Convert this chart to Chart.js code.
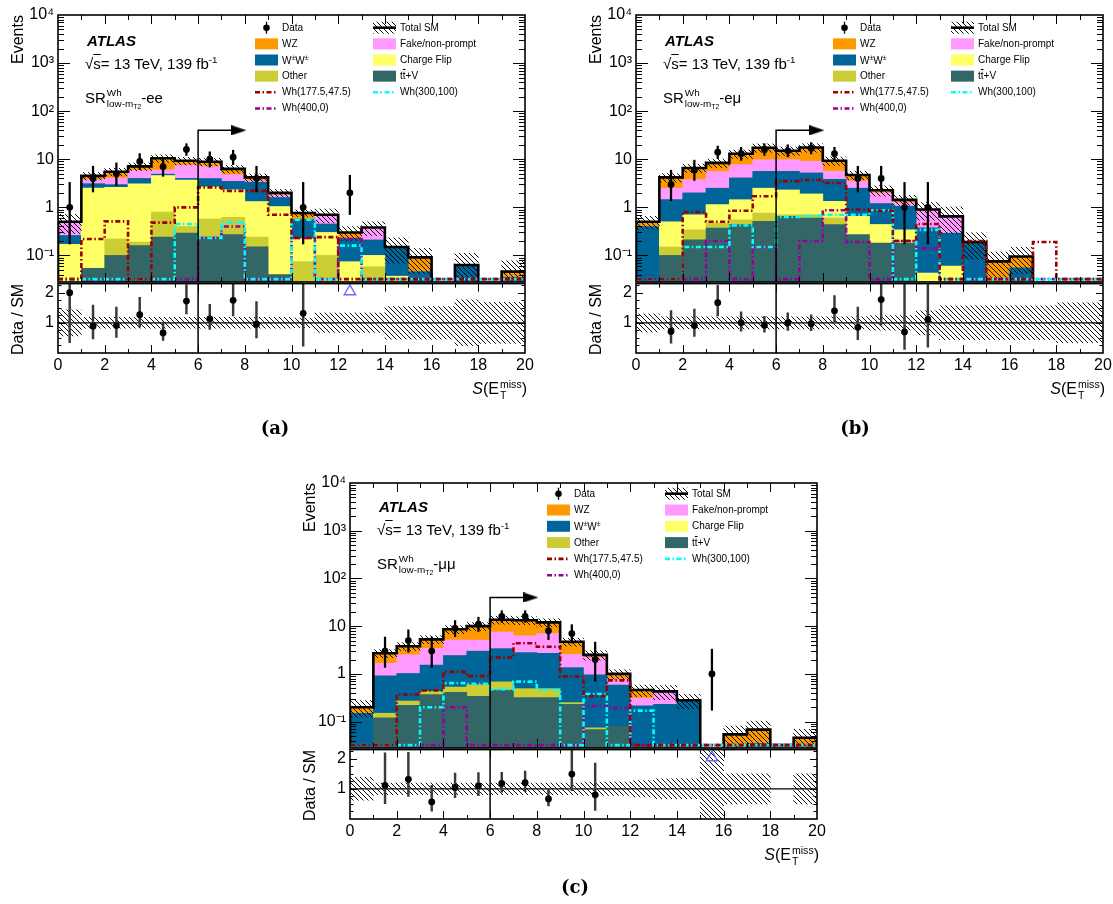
<!DOCTYPE html>
<html><head><meta charset="utf-8">
<script src="https://cdn.jsdelivr.net/npm/chart.js@4.4.1/dist/chart.umd.min.js"></script>
<style>
html,body{margin:0;padding:0;background:#fff}
body{width:1113px;height:904px;position:relative;overflow:hidden;font-family:"Liberation Sans",Arial,Helvetica,sans-serif;color:#000}
canvas{position:absolute}
.t{position:absolute;white-space:nowrap;line-height:1}
.ss{display:inline-flex;flex-direction:column;vertical-align:middle;font-size:0.66em;line-height:1.08;margin-left:1px;text-align:left}
.s2{font-size:0.7em;vertical-align:-0.25em}
.tag{font-family:"DejaVu Serif",serif;font-weight:bold;font-size:18px}
</style></head><body>
<script>
// ---------------- DATA ----------------
const binCenters = [0.5,1.5,2.5,3.5,4.5,5.5,6.5,7.5,8.5,9.5,10.5,11.5,12.5,13.5,14.5,15.5,16.5,17.5,18.5,19.5];
const mainTickValues = [0.1,1,10,100,1000,10000];
const mainTickLabels = ['10\u207B\u00B9','1','10','10\u00B2','10\u00B3','10\u2074'];
const ratioTickValues = [1,2];
const ratioTickLabels = ['1','2'];
const xTickValues = [0,2,4,6,8,10,12,14,16,18,20];
const xTickLabels = ['0','2','4','6','8','10','12','14','16','18','20'];

// Garwood (68%) Poisson intervals for n = 0..20
const poissonLo = [0,0.173,0.708,1.367,2.086,2.840,3.620,4.419,5.232,6.057,6.891,7.734,8.585,9.441,10.30,11.17,12.04,12.92,13.80,14.68,15.57];
const poissonHi = [1.841,3.300,4.638,5.918,7.163,8.382,9.584,10.77,11.95,13.11,14.27,15.42,16.56,17.70,18.83,19.96,21.08,22.20,23.32,24.42,25.54];

// (a) ee
const ee_ttV        = [0,0.054,0.10,0.16,0.24,0.29,0.24,0.27,0.15,0.04,0,0,0,0,0,0,0,0,0,0];
const ee_other      = [0,0,0.12,0.03,0.56,0.11,0.33,0.35,0.09,0,0.074,0.10,0,0.058,0,0,0,0,0,0];
const ee_chargeFlip = [0.17,2.45,2.4,2.9,3.8,3.3,2.1,1.7,1.08,1.0,0.15,0.20,0.074,0.042,0.037,0,0,0,0,0];
const ee_WW         = [0.09,0.6,0.35,0.9,0.3,0.3,1.3,1.15,2.0,0.56,0.33,0.15,0.154,0.11,0.108,0.046,0.01,0.063,0.01,0.035];
const ee_fake       = [0.22,0.65,1.1,1.85,1.1,3.5,3.1,1.3,0.25,0.2,0,0.25,0,0.17,0,0,0,0,0,0];
const ee_WZ         = [0.02,0.75,1.43,1.26,4.5,1.8,1.78,1.53,0.63,0.2,0.206,0,0.072,0,0.005,0.045,0,0,0,0.011];
const ee_data       = [1,4,5,9,7,16,10,11,4,0,1,0,2,0,0,0,0,0,0,0];
const ee_relUnc     = [0.43,0.18,0.18,0.18,0.18,0.18,0.18,0.18,0.18,0.18,0.16,0.32,0.32,0.32,0.54,0.54,0.54,0.76,0.68,0.68];
const ee_Wh177      = [0,0.22,0.51,0,0.48,1.0,2.6,2.2,2.2,0.70,0.23,0.24,0,0,0,0,0,0,0,0];
const ee_Wh300      = [0,0,0,0,0,0.45,0.23,0.48,0,0,0.55,0,0.16,0,0,0,0,0,0,0];
const ee_Wh400      = [0,0,0,0,0,0,0.23,0.40,0,0,0.23,0,0.22,0,0,0,0,0,0,0];

// (b) e mu
const em_ttV        = [0,0.1,0.21,0.37,0.44,0.51,0.65,0.6,0.44,0.27,0.18,0.18,0,0,0,0,0,0,0,0];
const em_other      = [0,0.05,0.13,0.1,0.11,0.25,0.05,0.1,0.16,0,0,0,0,0,0,0,0,0,0,0];
const em_chargeFlip = [0,0.35,0.36,0.67,0.89,1.74,1.6,1.2,0.73,0.38,0.26,0.16,0.043,0.06,0,0,0,0,0,0];
const em_WW         = [0.4,0.95,1.3,1.36,2.66,3.1,3.3,3.3,2.5,1.85,0.76,0.71,0.33,0.23,0.19,0.005,0.055,0.01,0.01,0.01];
const em_fake       = [0,1.05,1.8,3.1,3.6,4.2,4.2,3.9,1.8,1.0,0.8,0.2,0.527,0.36,0,0,0,0,0,0];
const em_WZ         = [0.1,1.7,2.8,2.8,5.3,7.6,5.2,8.4,3.67,1.2,0.26,0.18,0,0,0,0.07,0.04,0,0,0];
const em_data       = [0,3,6,14,13,16,15,17,13,4,4,1,1,0,0,0,0,0,0,0];
const em_relUnc     = [0.30,0.20,0.20,0.20,0.20,0.20,0.20,0.20,0.20,0.20,0.24,0.24,0.40,0.56,0.56,0.56,0.56,0.56,0.66,0.66];
const em_Wh177      = [0,0,0.8,0.5,0.85,1.7,3.5,3.7,3.2,0.9,0.85,0.2,0.45,0,0.2,0,0,0.19,0,0];
const em_Wh300      = [0,0,0.15,0.15,0.42,0.15,0.63,0.67,0.7,0.7,0.87,0,0.34,0,0,0,0,0,0,0];
const em_Wh400      = [0,0,0,0.2,0,0.15,0,0.2,0.87,0.19,0,0.2,0.14,0,0,0,0,0,0,0];

// (c) mu mu
const mm_ttV        = [0,0.12,0.22,0.37,0.41,0.34,0.46,0.32,0.32,0.23,0.068,0.08,0,0,0,0,0,0,0,0];
const mm_other      = [0,0.03,0.05,0.06,0.12,0.25,0.22,0.17,0.17,0.02,0.006,0,0,0,0,0,0,0,0,0];
const mm_chargeFlip = [0,0,0,0,0,0,0,0,0,0,0,0,0,0,0,0,0,0,0,0];
const mm_WW         = [0.15,0.76,0.75,1.1,1.9,2.4,2.7,2.3,2.2,1.1,0.88,0.5,0.215,0.23,0.28,0,0,0.035,0,0];
const mm_fake       = [0,0.76,1.5,1.9,2.7,2.1,4.2,3.5,4.3,1.2,1.25,0.2,0.095,0.2,0,0,0,0,0,0];
const mm_WZ         = [0.05,1.03,1.28,1.87,3.47,4.91,6.02,7.01,5.01,2.15,0.296,0.22,0.15,0,0,0.01,0.054,0.033,0,0.046];
const mm_data       = [0,3,5,3,9,11,16,16,8,7,2,0,0,0,0,1,0,0,0,0];
const mm_relUnc     = [0.38,0.19,0.19,0.19,0.19,0.19,0.19,0.19,0.19,0.19,0.22,0.22,0.27,0.33,0.33,1.5,0.5,0.5,0,0.5];
const mm_Wh177      = [0,0,0.37,0.45,1.1,0.9,2.2,4.4,3.7,0.88,0.34,0.73,0,0,0,0,0,0,0,0];
const mm_Wh300      = [0,0,0,0.2,0.64,0.62,0.48,0.69,0.46,0,0.38,0,0.17,0,0,0,0,0,0,0];
const mm_Wh400      = [0,0,0,0,0.2,0,0,0,0,0,0.21,0.19,0,0,0,0,0,0,0,0];

// signal-region cut annotation
const cutValue = 6;
const cutArrowLevel = 40;
const cutArrowEnd = 8.07;

// ---------------- STYLE / LAYOUT ----------------
const COLORS = {ttV:'#336666', other:'#cccc33', chargeFlip:'#ffff66', WW:'#006699', fake:'#ff99ff', WZ:'#ff9900',
  Wh177:'#990000', Wh300:'#00ffff', Wh400:'#990099', offscale:'#6a6aff'};
const Y_MIN = 0.028, Y_MAX = 10000, R_MIN = 0, R_MAX = 2.3;
const LINE_FLOOR = Y_MIN * 1.15;   // empty bins of line histograms sit on the bottom of the frame
const SIG_DASH = [5,2.5,1.5,2.5];

const panels = [
  {d:{ttV:ee_ttV,other:ee_other,chargeFlip:ee_chargeFlip,WW:ee_WW,fake:ee_fake,WZ:ee_WZ,data:ee_data,relUnc:ee_relUnc,Wh177:ee_Wh177,Wh300:ee_Wh300,Wh400:ee_Wh400},
   L:58,R:525,T:15,B:282,RB:353,dx:0,dy:0,rowH:16.15,flav:'ee',tag:'(a)',tagX:275,tagY:428},
  {d:{ttV:em_ttV,other:em_other,chargeFlip:em_chargeFlip,WW:em_WW,fake:em_fake,WZ:em_WZ,data:em_data,relUnc:em_relUnc,Wh177:em_Wh177,Wh300:em_Wh300,Wh400:em_Wh400},
   L:636,R:1103,T:15,B:282,RB:353,dx:578,dy:0,rowH:16.15,flav:'e\u03BC',tag:'(b)',tagX:855,tagY:428},
  {d:{ttV:mm_ttV,other:mm_other,chargeFlip:mm_chargeFlip,WW:mm_WW,fake:mm_fake,WZ:mm_WZ,data:mm_data,relUnc:mm_relUnc,Wh177:mm_Wh177,Wh300:mm_Wh300,Wh400:mm_Wh400},
   L:350,R:817,T:483,B:748,RB:819,dx:292,dy:466,rowH:16.3,flav:'\u03BC\u03BC',tag:'(c)',tagX:575,tagY:887},
];

Chart.defaults.font.family = '"Liberation Sans", Arial, sans-serif';
Chart.defaults.color = '#000';
Chart.defaults.animation = false;

const hatch = (() => {
  const c = document.createElement('canvas'); c.width = 5; c.height = 5;
  const g = c.getContext('2d'); g.strokeStyle = '#000'; g.lineWidth = 0.95;
  g.beginPath(); g.moveTo(-1,-1); g.lineTo(6,6); g.moveTo(-1,4); g.lineTo(1,6); g.moveTo(4,-1); g.lineTo(6,1); g.stroke();
  return g.createPattern(c, 'repeat');
})();
const arrowHead = (() => {
  const c = document.createElement('canvas'); c.width = 15; c.height = 10;
  const g = c.getContext('2d'); g.fillStyle = '#000';
  g.beginPath(); g.moveTo(0,0); g.lineTo(15,5); g.lineTo(0,10); g.closePath(); g.fill();
  return c;
})();

// tick marks + frame drawn through the chart's own scales
const rootFrame = {
  id: 'rootFrame',
  afterDatasetsDraw(chart, args, o) {
    const {ctx, chartArea: a} = chart; const xs = chart.scales.x, ys = chart.scales.y;
    ctx.save(); ctx.strokeStyle = '#000'; ctx.lineWidth = 1; ctx.beginPath();
    for (const [v, len] of o.y) {
      const p = Math.round(ys.getPixelForValue(v)) + 0.5;
      if (p < a.top + 1 || p > a.bottom - 1) continue;
      ctx.moveTo(a.left, p); ctx.lineTo(a.left + len, p);
      ctx.moveTo(a.right, p); ctx.lineTo(a.right - len, p);
    }
    for (const [v, len] of o.x) {
      const p = Math.round(xs.getPixelForValue(v)) + 0.5;
      if (p < a.left + 1 || p > a.right - 1) continue;
      ctx.moveTo(p, a.bottom); ctx.lineTo(p, a.bottom - len);
      ctx.moveTo(p, a.top); ctx.lineTo(p, a.top + len);
    }
    ctx.stroke();
    ctx.lineWidth = 1.6; ctx.strokeRect(a.left, a.top, a.right - a.left, a.bottom - a.top);
    ctx.restore();
  }
};
Chart.register(rootFrame);

const logTicks = [];
for (let e = -2; e <= 3; e++) for (let m = 1; m <= 9; m++) logTicks.push([m * Math.pow(10, e), m === 1 ? 12 : 6]);
logTicks.push([10000, 12]);
const xTicksMain = []; for (let k = 0; k <= 20; k++) xTicksMain.push([k, k % 2 === 0 ? 9 : 5]);
const xTicksRatio = []; for (let k = 0; k <= 20; k++) xTicksRatio.push([k, k % 2 === 0 ? 8 : 4]);
const yTicksRatio = []; for (let k = 1; k < 10; k++) yTicksRatio.push([k * 0.25, k % 4 === 0 ? 7 : 3.5]);

function stepPoints(vals) {
  const f = (v) => (v > 0 ? v : LINE_FLOOR);
  const pts = [{x: 0, y: LINE_FLOOR}];
  vals.forEach((v, i) => pts.push({x: binCenters[i] - 0.5, y: f(v)}));
  pts.push({x: 20, y: f(vals[vals.length - 1])});
  pts.push({x: 20, y: LINE_FLOOR});
  return pts;
}
function mkCanvas(left, top, w, h) {
  const c = document.createElement('canvas');
  c.width = w; c.height = h; c.style.left = left + 'px'; c.style.top = top + 'px';
  c.style.width = w + 'px'; c.style.height = h + 'px';
  document.body.appendChild(c); return c;
}

function buildPanel(P) {
  const D = P.d;
  const stackKeys = ['ttV','other','chargeFlip','WW','fake','WZ'];
  const total = binCenters.map((_, i) => stackKeys.reduce((s, k) => s + D[k][i], 0));
  const padL = 56, padR = 16, padT = 14, padB = 14;

  // ---------- main pad ----------
  const mw = P.R - P.L + padL + padR, mh = P.B - P.T + padT + padB;
  const mc = mkCanvas(P.L - padL, P.T - padT, mw, mh);
  const ds = [];
  stackKeys.forEach((k, j) => ds.push({type:'bar', label:k, yAxisID:'y', order:20 + j,
    data: binCenters.map((x, i) => ({x, y: D[k][i]})), backgroundColor: COLORS[k], borderWidth: 0,
    barPercentage: 1, categoryPercentage: 1, grouped: false}));
  ds.push({type:'bar', label:'unc', yAxisID:'yu', order: 10, grouped:false, barPercentage:1, categoryPercentage:1,
    data: binCenters.map((x, i) => ({x, y: [Math.max(total[i] * (1 - D.relUnc[i]), 1e-4), total[i] * (1 + D.relUnc[i])]})).filter((p, i) => total[i] > 0 && D.relUnc[i] > 0),
    backgroundColor: hatch, borderWidth: 0});
  ds.push({type:'line', label:'total', yAxisID:'yu', order: 8, data: stepPoints(total), stepped: 'before',
    borderColor:'#000', borderWidth: 2.6, pointRadius: 0, fill: false});
  [['Wh177', 5], ['Wh300', 6], ['Wh400', 7]].forEach(([k, o]) => ds.push({type:'line', label:k, yAxisID:'yu', order:o,
    data: stepPoints(D[k]), stepped:'before', borderColor: COLORS[k], borderWidth: 2.6, borderDash: SIG_DASH, pointRadius: 0, fill:false}));
  ds.push({type:'line', label:'cut', yAxisID:'yu', order: 4,
    data: [{x: cutValue, y: Y_MIN}, {x: cutValue, y: cutArrowLevel}, {x: cutArrowEnd - 0.5, y: cutArrowLevel}],
    borderColor:'#000', borderWidth: 1.5, pointRadius: 0, fill:false});
  ds.push({type:'line', label:'arrow', yAxisID:'yu', order: 4, showLine:false,
    data: [{x: cutArrowEnd - 0.32, y: cutArrowLevel}], pointStyle: arrowHead, pointRadius: 7});
  ds.push({type:'bar', label:'dataErr', yAxisID:'yu', order: 2, grouped:false, barThickness: 1.6,
    data: binCenters.map((x, i) => ({x, y: [poissonLo[D.data[i]], poissonHi[D.data[i]]]})).filter((p, i) => D.data[i] > 0),
    backgroundColor:'#000', borderWidth: 0});
  ds.push({type:'line', label:'data', yAxisID:'yu', order: 1, showLine:false,
    data: binCenters.map((x, i) => ({x, y: D.data[i]})).filter((p, i) => D.data[i] > 0),
    pointRadius: 3.4, pointBackgroundColor:'#000', pointBorderWidth: 0});

  new Chart(mc, {type:'bar', data:{datasets: ds}, options:{
    responsive:false, devicePixelRatio:1, animation:false,
    layout:{padding:{left:0, right:padR, top:padT, bottom:padB}},
    plugins:{legend:{display:false}, tooltip:{enabled:false}, rootFrame:{y: logTicks, x: xTicksMain}},
    scales:{
      x:{type:'linear', min:0, max:20, display:false, offset:false, grid:{offset:false}},
      y:{type:'logarithmic', min:Y_MIN, max:Y_MAX, stacked:true, position:'left',
         grid:{display:false, drawTicks:false}, border:{display:false},
         ticks:{font:{size:16}, color:'#000', padding:4, autoSkip:false, callback:(v, i) => mainTickLabels[i]},
         afterBuildTicks:(s) => { s.ticks = mainTickValues.map(v => ({value: v, major: true})); },
         afterFit:(s) => { s.width = padL; }},
      yu:{type:'logarithmic', min:Y_MIN, max:Y_MAX, display:false, stacked:false}
    }}});

  // ---------- ratio pad ----------
  const rPadT = 12, xAxisH = 28;
  const rw = mw, rh = P.RB - P.B + rPadT + xAxisH;
  const rc = mkCanvas(P.L - padL, P.B - rPadT, rw, rh);
  const rds = [];
  rds.push({type:'bar', label:'band', yAxisID:'y', order: 10, grouped:false, barPercentage:1, categoryPercentage:1,
    data: binCenters.map((x, i) => ({x, y: [1 - D.relUnc[i], 1 + D.relUnc[i]]})).filter((p, i) => D.relUnc[i] > 0),
    backgroundColor: hatch, borderWidth: 0});
  rds.push({type:'line', label:'one', yAxisID:'y', order: 6, data:[{x:0, y:1}, {x:20, y:1}],
    borderColor:'#000', borderWidth: 1.2, pointRadius: 0});
  rds.push({type:'line', label:'cut', yAxisID:'y', order: 5, data:[{x:cutValue, y:R_MIN}, {x:cutValue, y:R_MAX}],
    borderColor:'#000', borderWidth: 1.5, pointRadius: 0});
  rds.push({type:'bar', label:'ratioErr', yAxisID:'y', order: 3, grouped:false, barThickness: 1.8,
    data: binCenters.map((x, i) => ({x, y: [poissonLo[D.data[i]] / total[i], poissonHi[D.data[i]] / total[i]]})).filter((p, i) => D.data[i] > 0 && total[i] > 0),
    backgroundColor:'#3a3a3a', borderWidth: 0});
  rds.push({type:'line', label:'ratio', yAxisID:'y', order: 2, showLine:false,
    data: binCenters.map((x, i) => ({x, y: D.data[i] / total[i]})).filter((p, i) => D.data[i] > 0 && total[i] > 0),
    pointRadius: 3.4, pointBackgroundColor:'#000', pointBorderWidth: 0});
  rds.push({type:'line', label:'offscale', yAxisID:'y', order: 1, showLine:false,
    data: binCenters.map((x, i) => ({x, y: R_MAX - 0.26})).filter((p, i) => D.data[i] > 0 && (total[i] <= 0 || D.data[i] / total[i] > R_MAX)),
    pointStyle:'triangle', pointRadius: 6.5, pointBorderColor: COLORS.offscale, pointBorderWidth: 1.4, pointBackgroundColor:'rgba(0,0,0,0)'});

  new Chart(rc, {type:'bar', data:{datasets: rds}, options:{
    responsive:false, devicePixelRatio:1, animation:false,
    layout:{padding:{left:0, right:padR, top:rPadT, bottom:0}},
    plugins:{legend:{display:false}, tooltip:{enabled:false}, rootFrame:{y: yTicksRatio, x: xTicksRatio}},
    scales:{
      x:{type:'linear', min:0, max:20, position:'bottom', offset:false,
         grid:{display:false, drawTicks:false, offset:false}, border:{display:false},
         ticks:{font:{size:16}, color:'#000', padding:3, autoSkip:false, maxRotation:0, callback:(v, i) => xTickLabels[i]},
         afterBuildTicks:(s) => { s.ticks = xTickValues.map(v => ({value: v})); },
         afterFit:(s) => { s.height = xAxisH; }},
      y:{type:'linear', min:R_MIN, max:R_MAX, position:'left',
         grid:{display:false, drawTicks:false}, border:{display:false},
         ticks:{font:{size:16}, color:'#000', padding:4, autoSkip:false, callback:(v, i) => ratioTickLabels[i]},
         afterBuildTicks:(s) => { s.ticks = ratioTickValues.map(v => ({value: v})); },
         afterFit:(s) => { s.width = padL; }}
    }}});

  // ---------- texts ----------
  const dx = P.dx, dy = P.dy;
  addText('ATLAS', 87 + dx, 40 + dy, {fontWeight:'bold', fontStyle:'italic', fontSize:'15px'});
  addText('\u221A<span style="text-decoration:overline">s</span>= 13 TeV, 139 fb<sup style="font-size:0.65em">-1</sup>', 85 + dx, 63 + dy, {fontSize:'15px'});
  addText('SR<span class="ss"><span>Wh</span><span>low-m<span class="s2">T2</span></span></span>-' + P.flav, 85 + dx, 99 + dy, {fontSize:'15px'});
  rotText('Events', P.L - 40.5, P.T, null, 16);
  rotText('Data / SM', P.L - 40.5, null, (P.B + P.RB) / 2 + 2, 16);
  const xt = addText('<i>S</i>(E<span class="ss"><span>miss</span><span>T</span></span>)', P.R + 2, P.RB + 37, {fontSize:'16px'});
  xt.style.transform = 'translate(-100%,-50%)';
  const tg = addText(P.tag, P.tagX, P.tagY, {}); tg.className = 't tag'; tg.style.transform = 'translate(-50%,-50%)';

  // ---------- legend ----------
  const rows = [0,1,2,3,4,5].map(i => 27.7 + dy + i * P.rowH);
  const c1s = 255 + dx, c1t = 282 + dx, c2s = 373 + dx, c2t = 400 + dx;
  const fs = '10px';
  svgEl('line', {x1: 266.5 + dx, x2: 266.5 + dx, y1: rows[0] - 6, y2: rows[0] + 6, stroke:'#000', 'stroke-width':1.3});
  svgEl('circle', {cx: 266.5 + dx, cy: rows[0], r: 3.3, fill:'#000'});
  addText('Data', c1t, rows[0], {fontSize: fs});
  [['WZ', COLORS.WZ, 'WZ'], ['WW', COLORS.WW, 'W<sup style="font-size:0.7em">\u00B1</sup>W<sup style="font-size:0.7em">\u00B1</sup>'], ['other', COLORS.other, 'Other']].forEach(([k, col, txt], j) => {
    svgEl('rect', {x: c1s, y: rows[j + 1] - 5.5, width: 23, height: 11, fill: col});
    addText(txt, c1t, rows[j + 1], {fontSize: fs});
  });
  [['Wh177', 'Wh(177.5,47.5)', c1s, c1t, 4], ['Wh400', 'Wh(400,0)', c1s, c1t, 5], ['Wh300', 'Wh(300,100)', c2s, c2t, 4]].forEach(([k, txt, sx, tx, r]) => {
    svgEl('line', {x1: sx, x2: sx + 23, y1: rows[r], y2: rows[r], stroke: COLORS[k], 'stroke-width': 2.6, 'stroke-dasharray': '5 2.5 1.5 2.5'});
    addText(txt, tx, rows[r], {fontSize: fs});
  });
  svgEl('rect', {x: c2s, y: rows[0] - 6, width: 23, height: 12, fill:'url(#hp)'});
  svgEl('line', {x1: c2s, x2: c2s + 23, y1: rows[0], y2: rows[0], stroke:'#000', 'stroke-width': 2.6});
  addText('Total SM', c2t, rows[0], {fontSize: fs});
  [['fake', 'Fake/non-prompt'], ['chargeFlip', 'Charge Flip'], ['ttV', 't<span style="text-decoration:overline">t</span>+V']].forEach(([k, txt], j) => {
    svgEl('rect', {x: c2s, y: rows[j + 1] - 5.5, width: 23, height: 11, fill: COLORS[k]});
    addText(txt, c2t, rows[j + 1], {fontSize: fs});
  });
}

// ---------- helpers for text / legend glyphs ----------
const SVGNS = 'http://www.w3.org/2000/svg';
const svg = document.createElementNS(SVGNS, 'svg');
svg.setAttribute('width', 1113); svg.setAttribute('height', 904);
svg.style.position = 'absolute'; svg.style.left = '0'; svg.style.top = '0'; svg.style.zIndex = '5';
svg.innerHTML = '<defs><pattern id="hp" width="5" height="5" patternUnits="userSpaceOnUse"><path d="M-1,-1 L6,6 M-1,4 L1,6 M4,-1 L6,1" stroke="#000" stroke-width="0.95"/></pattern></defs>';
document.body.appendChild(svg);
function svgEl(tag, attrs) { const e = document.createElementNS(SVGNS, tag); for (const k in attrs) e.setAttribute(k, attrs[k]); svg.appendChild(e); return e; }
function addText(html, x, y, style) {
  const d = document.createElement('div'); d.className = 't'; d.innerHTML = html;
  d.style.left = x + 'px'; d.style.top = y + 'px'; d.style.transform = 'translateY(-50%)'; d.style.zIndex = '6';
  Object.assign(d.style, style || {}); document.body.appendChild(d); return d;
}
function rotText(txt, cx, topEnd, cy, size) {
  const d = document.createElement('div'); d.className = 't'; d.textContent = txt; d.style.fontSize = size + 'px';
  d.style.zIndex = '6'; document.body.appendChild(d);
  const w = d.offsetWidth, h = d.offsetHeight;
  d.style.transformOrigin = '0 0'; d.style.transform = 'rotate(-90deg)';
  d.style.left = (cx - h / 2) + 'px';
  d.style.top = (topEnd !== null ? topEnd + w : cy + w / 2) + 'px';
}

panels.forEach(buildPanel);
</script>
</body></html>
